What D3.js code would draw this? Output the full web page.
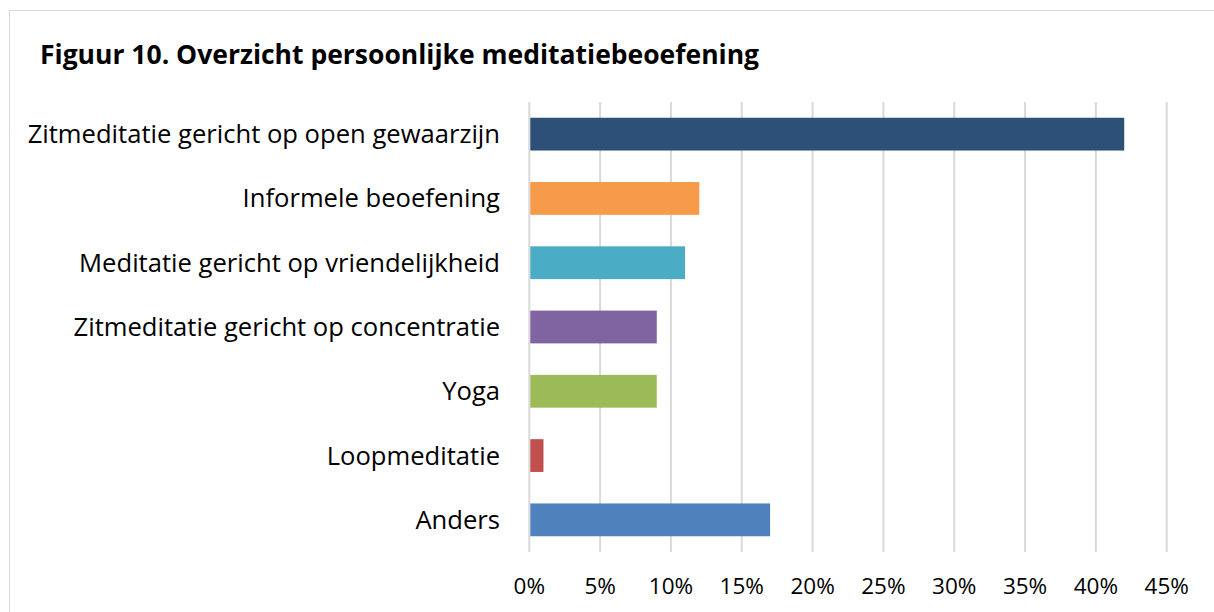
<!DOCTYPE html>
<html>
<head>
<meta charset="utf-8">
<script src="https://cdn.jsdelivr.net/npm/d3@7"></script>
<style>
  body { margin: 0; background: #fff; }
  text { font-family: "Open Sans", sans-serif; }
</style>
</head>
<body>
<div id="chart"></div>
<script>
var categories = ["Zitmeditatie gericht op open gewaarzijn", "Informele beoefening",
                  "Meditatie gericht op vriendelijkheid", "Zitmeditatie gericht op concentratie",
                  "Yoga", "Loopmeditatie", "Anders"];
var values = [42, 12, 11, 9, 9, 1, 17];
var colors = ["#2D5078", "#F79A49", "#4BACC6", "#8064A2", "#9BBB59", "#C0504D", "#4F81BD"];
var ticks = [0, 5, 10, 15, 20, 25, 30, 35, 40, 45];

var W = 1214, H = 612;
var svg = d3.select("#chart").append("svg")
  .attr("width", W).attr("height", H);

// outer frame
svg.append("rect")
  .attr("x", 9.5).attr("y", 10.5)
  .attr("width", W + 10).attr("height", H + 10)
  .attr("fill", "none").attr("stroke", "#d9d9d9").attr("stroke-width", 1);

svg.append("text")
  .attr("x", 40).attr("y", 64)
  .attr("font-size", 26.5).attr("font-weight", "bold")
  .attr("fill", "#000")
  .text("Figuur 10. Overzicht persoonlijke meditatiebeoefening");

var x = d3.scaleLinear().domain([0, 45]).range([529.3, 1166.7]);
var y = d3.scaleBand().domain(categories).range([102, 552]).paddingInner(0.49).paddingOuter(0.245);

svg.append("g").selectAll("line")
  .data(ticks).enter().append("line")
  .attr("x1", function(d) { return x(d); })
  .attr("x2", function(d) { return x(d); })
  .attr("y1", 102).attr("y2", 552)
  .attr("stroke", "#d9d9d9").attr("stroke-width", 2);

svg.append("g").selectAll("rect")
  .data(values).enter().append("rect")
  .attr("x", x(0) + 1)
  .attr("y", function(d, i) { return y(categories[i]); })
  .attr("width", function(d) { return x(d) - x(0) - 1; })
  .attr("height", y.bandwidth())
  .attr("fill", function(d, i) { return colors[i]; });

svg.append("g").selectAll("text")
  .data(categories).enter().append("text")
  .attr("x", 500)
  .attr("y", function(d) { return y(d) + y.bandwidth() / 2; })
  .attr("dy", "0.35em")
  .attr("text-anchor", "end")
  .attr("font-size", 25.6)
  .attr("fill", "#000")
  .text(function(d) { return d; });

svg.append("g").selectAll("text")
  .data(ticks).enter().append("text")
  .attr("x", function(d) { return x(d); })
  .attr("y", 586)
  .attr("dy", "0.35em")
  .attr("text-anchor", "middle")
  .attr("font-size", 22.5)
  .attr("fill", "#000")
  .text(function(d) { return d + "%"; });
</script>
</body>
</html>
